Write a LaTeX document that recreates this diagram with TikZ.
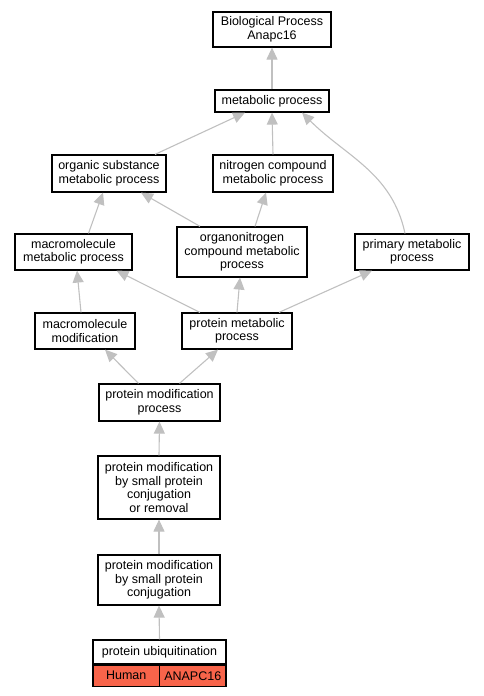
\documentclass[tikz,border=0pt]{standalone}
\usepackage{fontspec}
\setmainfont{Liberation Sans}
\usetikzlibrary{arrows.meta}
\definecolor{edgegray}{RGB}{192,192,192}
\definecolor{humanred}{RGB}{248,100,74}

\begin{document}
\begin{tikzpicture}[x=1pt,y=-1pt,
  term/.style={draw=black, line width=1.2pt, align=center, inner sep=0pt, font=\fontsize{12.5}{13.5}\selectfont},
  isa/.style={draw=edgegray, line width=1.1pt, -{Triangle[width=11pt,length=12pt]}},
  cell/.style={draw=black, line width=1.2pt, fill=humanred, inner sep=0pt, minimum height=21, font=\fontsize{12.5}{13.5}\selectfont}]

\useasboundingbox (0,0) rectangle (483,696);

\node[term, minimum width=118, minimum height=35] (bp) at (272,29.5) {Biological Process\\Anapc16};
\node[term, minimum width=114, minimum height=22] (mp) at (272,101) {metabolic process};
\node[term, minimum width=114, minimum height=37] (osmp) at (109,173.5) {organic substance\\metabolic process};
\node[term, minimum width=120, minimum height=37] (ncmp) at (273,173.5) {nitrogen compound\\metabolic process};
\node[term, minimum width=117, minimum height=36] (mcmp) at (73.5,252) {macromolecule\\metabolic process};
\node[term, minimum width=130, minimum height=50] (oncmp) at (242,252) {organonitrogen\\compound metabolic\\process};
\node[term, minimum width=114, minimum height=36] (prmp) at (412,252) {primary metabolic\\process};
\node[term, minimum width=100, minimum height=36] (mcmod) at (85,331) {macromolecule\\modification};
\node[term, minimum width=110, minimum height=36] (ptmp) at (237,331) {protein metabolic\\process};
\node[term, minimum width=121, minimum height=37] (pmod) at (159.5,402.5) {protein modification\\process};
\node[term, minimum width=122, minimum height=63] (pmsr) at (159,487.5) {protein modification\\by small protein\\conjugation\\or removal};
\node[term, minimum width=122, minimum height=50] (pmsc) at (159,580) {protein modification\\by small protein\\conjugation};
\node[term, minimum width=133, minimum height=24] (pu) at (159.5,652) {protein ubiquitination};
\node[cell, minimum width=66.5, anchor=north west] (human) at (pu.south west) {Human};
\node[cell, minimum width=66.5, anchor=north east] (gene) at (pu.south east) {ANAPC16};

\draw[isa] (mp.north) -- (bp.south);
\draw[isa] ([xshift=46]osmp.north) -- ([xshift=-27]mp.south);
\draw[isa] (ncmp.north) -- (mp.south);
\draw[isa] ([xshift=-7]prmp.north) to[out=102,in=-45] ([xshift=30]mp.south);
\draw[isa] ([xshift=15]mcmp.north) -- ([xshift=-6]osmp.south);
\draw[isa] ([xshift=-42]oncmp.north) -- ([xshift=32]osmp.south);
\draw[isa] ([xshift=13]oncmp.north) -- ([xshift=-7]ncmp.south);
\draw[isa] ([xshift=-4]mcmod.north) -- ([xshift=3.5]mcmp.south);
\draw[isa] ([xshift=-37]ptmp.north) -- ([xshift=43]mcmp.south);
\draw[isa] (ptmp.north) -- ([xshift=-2]oncmp.south);
\draw[isa] ([xshift=42]ptmp.north) -- ([xshift=-40]prmp.south);
\draw[isa] ([xshift=-21]pmod.north) -- ([xshift=20]mcmod.south);
\draw[isa] ([xshift=20]pmod.north) -- ([xshift=-19]ptmp.south);
\draw[isa] (pmsr.north) -- (pmod.south);
\draw[isa] (pmsc.north) -- (pmsr.south);
\draw[isa] (pu.north) -- (pmsc.south);

\end{tikzpicture}
\end{document}
